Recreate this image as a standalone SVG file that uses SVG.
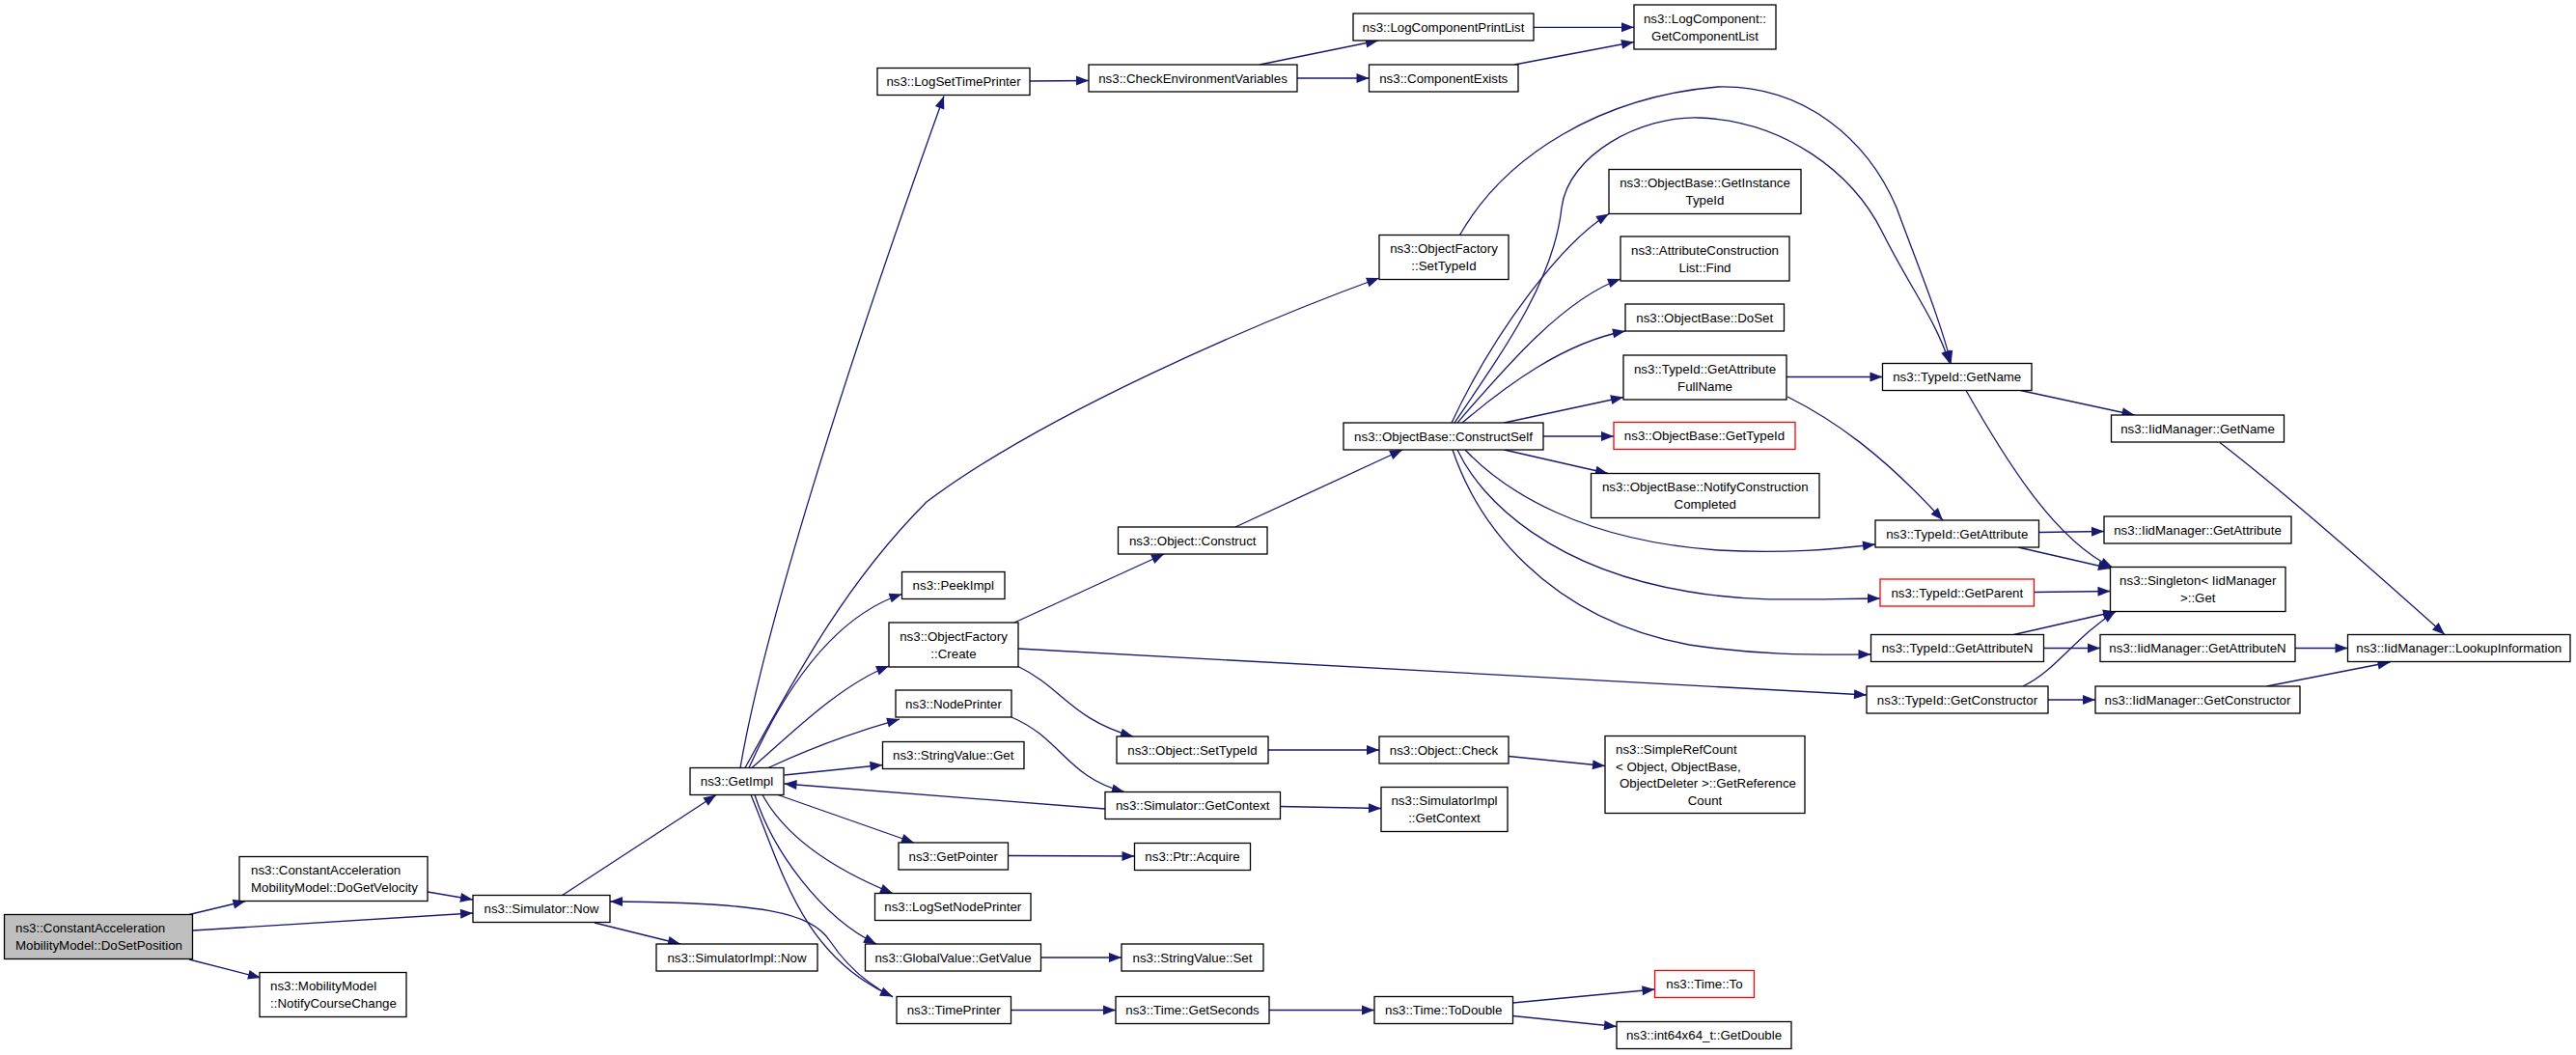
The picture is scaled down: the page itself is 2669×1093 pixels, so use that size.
<svg xmlns="http://www.w3.org/2000/svg" width="2669" height="1093" viewBox="0 0 2669 1093">
<style>
.n rect{fill:#fff;stroke:#000;stroke-width:1.3}
.r rect{stroke:#f00}
.g rect{fill:#bfbfbf}
text{font-family:"Liberation Sans",Arial,sans-serif;font-size:13.3px;fill:#000;text-anchor:middle}
.l text{text-anchor:start}
.l .c{text-anchor:middle}
#edges path{fill:none;stroke:#191970;stroke-width:1.3;marker-end:url(#a)}
</style>
<defs>
<marker id="a" markerUnits="userSpaceOnUse" markerWidth="13" markerHeight="10" refX="13" refY="5" orient="auto" viewBox="0 0 13 10" overflow="visible">
<path d="M0,0L13,5L0,10z" fill="#191970"/>
</marker>
</defs>
<rect width="2669" height="1093" fill="#fff"/>
<g id="edges">
<path d="M196,947.5L254.5,933.5"/>
<path d="M200,964L490,946"/>
<path d="M196,994L270,1013"/>
<path d="M443,924L490,932"/>
<path d="M582.6,927.5L742,823.5"/>
<path d="M616,956L705,978"/>
<path d="M925,1033C890,1015 870,990 860,975C840,945 790,935 632,934"/>
<path d="M767,795.5C790,660 870,400 978,99.5"/>
<path d="M772,795.5C830,690 880,600 960,520C1080,430 1300,335 1429,288"/>
<path d="M776,795.5C810,720 860,640 934.5,615.5"/>
<path d="M779,795.5C820,760 870,710 921,690"/>
<path d="M796,795.5C840,775 890,757 932,745"/>
<path d="M812.5,803L914.5,792.5"/>
<path d="M806,823.5L947,873"/>
<path d="M790,823.5C810,860 850,895 925,925.5"/>
<path d="M782,823.5C800,880 850,950 908,978"/>
<path d="M778,823.5C810,900 830,990 925,1032.5"/>
<path d="M1145,838L812.5,812"/>
<path d="M1326,835.5L1431,837.5"/>
<path d="M1048,743C1100,765 1105,805 1165,820.5"/>
<path d="M1051,645L1206,574"/>
<path d="M1055,690.5C1100,712 1110,745 1174,763"/>
<path d="M1055,672L1934,720"/>
<path d="M1314,777L1429,777"/>
<path d="M1563,783.5L1663,793.5"/>
<path d="M1044.5,886.5L1175.5,887"/>
<path d="M1078.5,992L1162,992"/>
<path d="M1047.5,1046.5L1156,1046.5"/>
<path d="M1315,1046.5L1424,1046.5"/>
<path d="M1567.5,1039L1714.5,1025"/>
<path d="M1567.5,1052.5L1675,1063.5"/>
<path d="M1067,84L1128,83.5"/>
<path d="M1305,67L1428,42"/>
<path d="M1344,81L1418.5,81"/>
<path d="M1589,28.3L1693,28.3"/>
<path d="M1569,67L1693,43.5"/>
<path d="M1280,546L1453,466"/>
<path d="M1512.5,243.5C1560,160 1660,100 1780,90C1870,88 1935,145 1965,215C1985,270 2010,330 2021.5,376.5"/>
<path d="M1507,438C1560,360 1610,290 1618,215C1625,160 1700,120 1760,122C1850,125 1920,180 1950,240C1980,300 2005,330 2020,376.5"/>
<path d="M1504,438C1550,340 1620,250 1667,221.5"/>
<path d="M1510,438C1560,380 1620,310 1679,289"/>
<path d="M1515,438C1560,400 1620,355 1684,343"/>
<path d="M1558.5,438L1682,411.5"/>
<path d="M1599,452L1672,452"/>
<path d="M1558.5,466L1666,490.5"/>
<path d="M1518,466C1560,510 1640,560 1780,570C1850,574 1900,569 1943,564"/>
<path d="M1510,466C1535,520 1610,590 1750,613C1820,625 1880,620 1948,620"/>
<path d="M1505,466C1530,540 1600,640 1750,668C1830,680 1890,678 1938.5,678"/>
<path d="M1851,390.5L1950.5,390.5"/>
<path d="M1852,411C1900,435 1950,470 2013,539"/>
<path d="M2093.5,404.5L2211.5,430"/>
<path d="M2037,404.5C2080,480 2130,560 2189,588"/>
<path d="M2300,458.5C2380,520 2480,610 2533,657.5"/>
<path d="M2112.5,551.5L2180,550.5"/>
<path d="M2091,567L2187,589"/>
<path d="M2107.5,613.5L2186.5,612.5"/>
<path d="M2086.5,657.5L2192,633.5"/>
<path d="M2117.5,671.5L2176,671.5"/>
<path d="M2378,671.5L2432.5,671.5"/>
<path d="M2096,711C2130,695 2150,660 2192,633.5"/>
<path d="M2122,725L2171,725"/>
<path d="M2348.5,711L2476.5,686"/>
</g>
<g id="n_dosetpos" class="n g l"><rect x="4.5" y="947.5" width="195" height="46"/><text x="16" y="966.2">ns3::ConstantAcceleration</text><text x="16" y="984.2">MobilityModel::DoSetPosition</text></g>
<g id="n_getvel" class="n l"><rect x="248" y="887.5" width="195" height="46"/><text x="260" y="906.2">ns3::ConstantAcceleration</text><text x="260" y="924.2">MobilityModel::DoGetVelocity</text></g>
<g id="n_notify" class="n l"><rect x="269" y="1007.5" width="152" height="46"/><text x="280" y="1026.2">ns3::MobilityModel</text><text x="280" y="1044.2">::NotifyCourseChange</text></g>
<g id="n_simnow" class="n"><rect x="490" y="927.5" width="142" height="28"/><text x="561" y="946.2">ns3::Simulator::Now</text></g>
<g id="n_simimplnow" class="n"><rect x="680" y="978" width="167" height="28"/><text x="763.5" y="996.7">ns3::SimulatorImpl::Now</text></g>
<g id="n_getimpl" class="n"><rect x="715" y="795.5" width="97" height="28"/><text x="763.5" y="814.2">ns3::GetImpl</text></g>
<g id="n_logsettime" class="n"><rect x="909" y="70.5" width="158" height="28"/><text x="988" y="89.2">ns3::LogSetTimePrinter</text></g>
<g id="n_checkenv" class="n"><rect x="1128" y="67" width="216" height="28"/><text x="1236" y="85.7">ns3::CheckEnvironmentVariables</text></g>
<g id="n_lcprintlist" class="n"><rect x="1402" y="14" width="187" height="28"/><text x="1495.5" y="32.7">ns3::LogComponentPrintList</text></g>
<g id="n_compexists" class="n"><rect x="1418.5" y="67" width="154.5" height="28"/><text x="1495.75" y="85.7">ns3::ComponentExists</text></g>
<g id="n_getcomplist" class="n"><rect x="1693" y="5" width="147" height="46"/><text x="1766.5" y="23.7">ns3::LogComponent::</text><text x="1766.5" y="41.7">GetComponentList</text></g>
<g id="n_ofsettypeid" class="n"><rect x="1429" y="243.5" width="134" height="46"/><text x="1496" y="262.2">ns3::ObjectFactory</text><text x="1496" y="280.2">::SetTypeId</text></g>
<g id="n_getinsttypeid" class="n"><rect x="1667" y="175.5" width="199" height="46"/><text x="1766.5" y="194.2">ns3::ObjectBase::GetInstance</text><text x="1766.5" y="212.2">TypeId</text></g>
<g id="n_acfind" class="n"><rect x="1679" y="245" width="175" height="46"/><text x="1766.5" y="263.7">ns3::AttributeConstruction</text><text x="1766.5" y="281.7">List::Find</text></g>
<g id="n_doset" class="n"><rect x="1684" y="315" width="164.5" height="28"/><text x="1766.25" y="333.7">ns3::ObjectBase::DoSet</text></g>
<g id="n_getattrfull" class="n"><rect x="1682" y="368" width="169" height="46"/><text x="1766.5" y="386.7">ns3::TypeId::GetAttribute</text><text x="1766.5" y="404.7">FullName</text></g>
<g id="n_constructself" class="n"><rect x="1392" y="438" width="207" height="28"/><text x="1495.5" y="456.7">ns3::ObjectBase::ConstructSelf</text></g>
<g id="n_gettypeid" class="n r"><rect x="1672" y="437.5" width="188" height="28"/><text x="1766" y="456.2">ns3::ObjectBase::GetTypeId</text></g>
<g id="n_notifyconst" class="n"><rect x="1648.5" y="490.5" width="236.5" height="46"/><text x="1766.75" y="509.2">ns3::ObjectBase::NotifyConstruction</text><text x="1766.75" y="527.2">Completed</text></g>
<g id="n_tgetname" class="n"><rect x="1950.5" y="376.5" width="154.5" height="28"/><text x="2027.75" y="395.2">ns3::TypeId::GetName</text></g>
<g id="n_iidgetname" class="n"><rect x="2187.5" y="430" width="179" height="28"/><text x="2277" y="448.7">ns3::IidManager::GetName</text></g>
<g id="n_tgetattr" class="n"><rect x="1943" y="539" width="169.5" height="28"/><text x="2027.75" y="557.7">ns3::TypeId::GetAttribute</text></g>
<g id="n_iidgetattr" class="n"><rect x="2180" y="535" width="194" height="28"/><text x="2277" y="553.7">ns3::IidManager::GetAttribute</text></g>
<g id="n_tgetparent" class="n r"><rect x="1948" y="600" width="159.5" height="28"/><text x="2027.75" y="618.7">ns3::TypeId::GetParent</text></g>
<g id="n_singleton" class="n"><rect x="2186.5" y="587.5" width="181.5" height="46"/><text x="2277.25" y="606.2">ns3::Singleton&lt; IidManager</text><text x="2277.25" y="624.2">&gt;::Get</text></g>
<g id="n_tgetattrn" class="n"><rect x="1938.5" y="657.5" width="179" height="28"/><text x="2028" y="676.2">ns3::TypeId::GetAttributeN</text></g>
<g id="n_iidgetattrn" class="n"><rect x="2176" y="657.5" width="202" height="28"/><text x="2277" y="676.2">ns3::IidManager::GetAttributeN</text></g>
<g id="n_lookup" class="n"><rect x="2432.5" y="657.5" width="230.5" height="28"/><text x="2547.75" y="676.2">ns3::IidManager::LookupInformation</text></g>
<g id="n_tgetctor" class="n"><rect x="1934" y="711" width="188" height="28"/><text x="2028" y="729.7">ns3::TypeId::GetConstructor</text></g>
<g id="n_iidgetctor" class="n"><rect x="2171" y="711" width="212" height="28"/><text x="2277" y="729.7">ns3::IidManager::GetConstructor</text></g>
<g id="n_objconstruct" class="n"><rect x="1158.5" y="546" width="154.5" height="28"/><text x="1235.75" y="564.7">ns3::Object::Construct</text></g>
<g id="n_peekimpl" class="n"><rect x="934.5" y="592.5" width="106.5" height="28"/><text x="987.75" y="611.2">ns3::PeekImpl</text></g>
<g id="n_ofcreate" class="n"><rect x="921" y="645" width="134" height="46"/><text x="988" y="663.7">ns3::ObjectFactory</text><text x="988" y="681.7">::Create</text></g>
<g id="n_nodeprinter" class="n"><rect x="928" y="715" width="120" height="28"/><text x="988" y="733.7">ns3::NodePrinter</text></g>
<g id="n_strvalget" class="n"><rect x="914.5" y="768.5" width="146.5" height="28"/><text x="987.75" y="787.2">ns3::StringValue::Get</text></g>
<g id="n_objsettypeid" class="n"><rect x="1157" y="763" width="157" height="28"/><text x="1235.5" y="781.7">ns3::Object::SetTypeId</text></g>
<g id="n_objcheck" class="n"><rect x="1429" y="763" width="134" height="28"/><text x="1496" y="781.7">ns3::Object::Check</text></g>
<g id="n_simplerefcount" class="n l"><rect x="1663" y="762.5" width="207" height="80"/><text x="1674" y="781">ns3::SimpleRefCount</text><text x="1674" y="798.5">&lt; Object, ObjectBase,</text><text x="1678" y="816">ObjectDeleter &gt;::GetReference</text><text class="c" x="1766.5" y="833.5">Count</text></g>
<g id="n_simgetctx" class="n"><rect x="1145" y="820.5" width="181.5" height="28"/><text x="1235.75" y="839.2">ns3::Simulator::GetContext</text></g>
<g id="n_simimplgetctx" class="n"><rect x="1431" y="815.5" width="131" height="46"/><text x="1496.5" y="834.2">ns3::SimulatorImpl</text><text x="1496.5" y="852.2">::GetContext</text></g>
<g id="n_getpointer" class="n"><rect x="931" y="873" width="113.5" height="28"/><text x="987.75" y="891.7">ns3::GetPointer</text></g>
<g id="n_ptracquire" class="n"><rect x="1175.5" y="873.5" width="120" height="28"/><text x="1235.5" y="892.2">ns3::Ptr::Acquire</text></g>
<g id="n_logsetnode" class="n"><rect x="906.5" y="925.5" width="161.5" height="28"/><text x="987.25" y="944.2">ns3::LogSetNodePrinter</text></g>
<g id="n_globalget" class="n"><rect x="896.5" y="978" width="182" height="28"/><text x="987.5" y="996.7">ns3::GlobalValue::GetValue</text></g>
<g id="n_strvalset" class="n"><rect x="1162" y="978" width="147" height="28"/><text x="1235.5" y="996.7">ns3::StringValue::Set</text></g>
<g id="n_timeprinter" class="n"><rect x="929" y="1032.5" width="118.5" height="28"/><text x="988.25" y="1051.2">ns3::TimePrinter</text></g>
<g id="n_getseconds" class="n"><rect x="1156" y="1032.5" width="159" height="28"/><text x="1235.5" y="1051.2">ns3::Time::GetSeconds</text></g>
<g id="n_todouble" class="n"><rect x="1424" y="1032.5" width="143.5" height="28"/><text x="1495.75" y="1051.2">ns3::Time::ToDouble</text></g>
<g id="n_timeto" class="n r"><rect x="1714.5" y="1005.5" width="103" height="28"/><text x="1766" y="1024.2">ns3::Time::To</text></g>
<g id="n_getdouble" class="n"><rect x="1675" y="1058.5" width="181" height="28"/><text x="1765.5" y="1077.2">ns3::int64x64_t::GetDouble</text></g>
</svg>
